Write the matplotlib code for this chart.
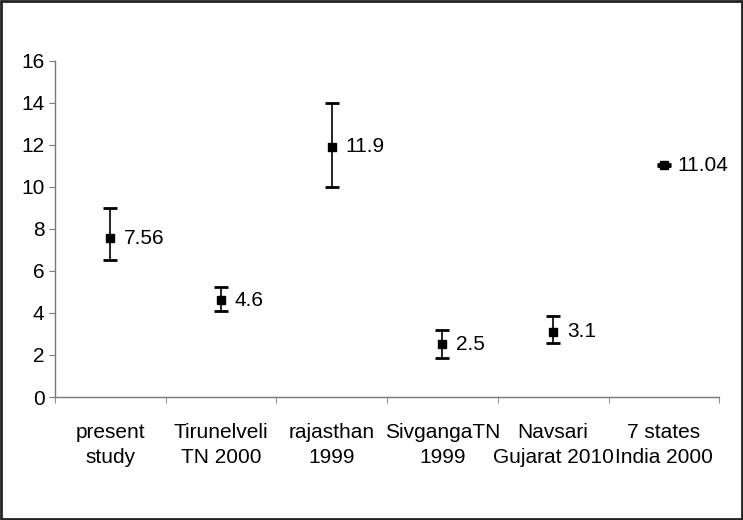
import matplotlib
matplotlib.use("Agg")
import matplotlib.pyplot as plt
from matplotlib.patches import Rectangle
import numpy as np

categories = ["present\nstudy", "Tirunelveli\nTN 2000", "rajasthan\n1999",
              "SivgangaTN\n1999", "Navsari\nGujarat 2010", "7 states\nIndia 2000"]
values = [7.56, 4.6, 11.9, 2.5, 3.1, 11.04]
lower = [6.5, 4.1, 10.0, 1.85, 2.55, 10.98]
upper = [9.0, 5.25, 14.0, 3.2, 3.85, 11.1]
labels = ["7.56", "4.6", "11.9", "2.5", "3.1", "11.04"]

plt.rcParams['font.family'] = ['Liberation Sans', 'DejaVu Sans']

fig = plt.figure(figsize=(7.43, 5.2), dpi=100)
ax = fig.add_axes([0.074, 0.2365, 0.894, 0.6465])

x = np.arange(len(values))
v = np.array(values)
yerr = np.array([v - np.array(lower), np.array(upper) - v])
ax.errorbar(x, v, yerr=yerr, fmt='s', color='black', ecolor='black',
            markersize=6, elinewidth=1.2, capsize=5, capthick=2)
for xi, yi, t in zip(x, v, labels):
    ax.annotate(t, (xi, yi), xytext=(10, 0), textcoords='offset points',
                va='center', ha='left', fontsize=15)

ax.set_xlim(-0.5, 5.5)
ax.set_ylim(0, 16)
ax.set_yticks(np.arange(0, 17, 2))
ax.set_xticks(x)
ax.set_xticklabels(categories, fontsize=15, linespacing=1.4)
ax.set_xticks(np.arange(-0.5, 6, 1), minor=True)
ax.tick_params(axis='x', which='major', length=0, pad=19)
ax.tick_params(axis='x', which='minor', length=4, color='#777777', direction='out')
ax.tick_params(axis='y', length=4, color='#777777', labelsize=15, direction='out')
for s in ['top', 'right']:
    ax.spines[s].set_visible(False)
for s in ['left', 'bottom']:
    ax.spines[s].set_color('#777777')
    ax.spines[s].set_linewidth(1)

fig.patches.append(Rectangle((0.0015, 0.002), 0.997, 0.996, transform=fig.transFigure,
                             fill=False, edgecolor='#222222', linewidth=2))

fig.savefig("out.png", dpi=100)
